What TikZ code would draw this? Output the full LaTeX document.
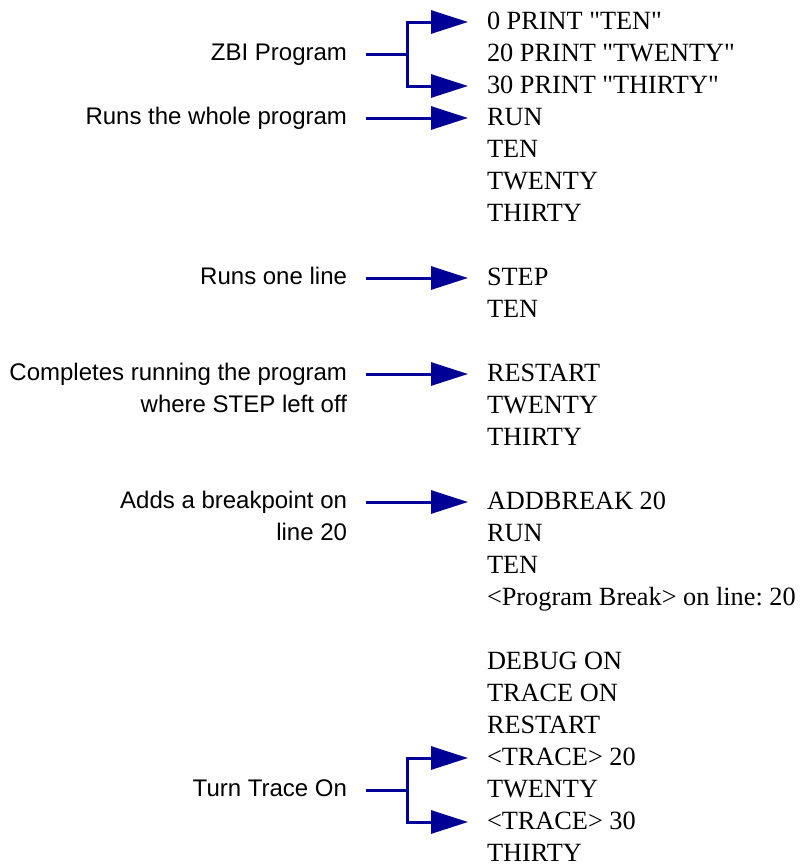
\documentclass[tikz,border=0pt]{standalone}
\usepackage{fontspec}
\setmainfont{Liberation Serif}
\setsansfont{Liberation Sans}
\usepackage{tikz}
\usetikzlibrary{arrows.meta,calc}
\definecolor{zbiblue}{RGB}{0,0,150}
\frenchspacing

\begin{document}
\begin{tikzpicture}[
    x=1pt, y=-1pt,
    conn/.style={zbiblue, line width=3pt},
    arr/.style={conn, -{Triangle[length=37pt, width=23pt]}},
    code/.style={font=\fontsize{26.3}{32}\selectfont, anchor=base west,
      inner sep=0pt, outer xsep=19pt, outer ysep=0pt,
      text height=14pt, text depth=0pt},
    note/.style={font=\sffamily\fontsize{24}{32}\selectfont, align=right,
      anchor=north east, inner sep=0pt, outer xsep=19pt, outer ysep=0pt},
  ]
  \useasboundingbox (0,0) rectangle (805,865);

  % Session transcript (one line every 32pt)
  \node[code] (c0)  at (468,29)  {0 PRINT \textquotedbl TEN\textquotedbl};
  \node[code] (c1)  at (468,61)  {20 PRINT \textquotedbl TWENTY\textquotedbl};
  \node[code] (c2)  at (468,93)  {30 PRINT \textquotedbl THIRTY\textquotedbl};
  \node[code] (c3)  at (468,125) {RUN};
  \node[code] (c4)  at (468,157) {TEN};
  \node[code] (c5)  at (468,189) {TWENTY};
  \node[code] (c6)  at (468,221) {THIRTY};
  \node[code] (c8)  at (468,285) {STEP};
  \node[code] (c9)  at (468,317) {TEN};
  \node[code] (c11) at (468,381) {RESTART};
  \node[code] (c12) at (468,413) {TWENTY};
  \node[code] (c13) at (468,445) {THIRTY};
  \node[code] (c15) at (468,509) {ADDBREAK 20};
  \node[code] (c16) at (468,541) {RUN};
  \node[code] (c17) at (468,573) {TEN};
  \node[code] (c18) at (468,605) {<Program Break> on line: 20};
  \node[code] (c20) at (468,669) {DEBUG ON};
  \node[code] (c21) at (468,701) {TRACE ON};
  \node[code] (c22) at (468,733) {RESTART};
  \node[code] (c23) at (468,765) {<TRACE> 20};
  \node[code] (c24) at (468,797) {TWENTY};
  \node[code] (c25) at (468,829) {<TRACE> 30};
  \node[code] (c26) at (468,861) {THIRTY};

  % Explanations
  \node[note] (lZbi)  at (366,43.6)  {ZBI Program};
  \node[note] (lRun)  at (366,107.6) {Runs the whole program};
  \node[note] (lStep) at (366,267.6) {Runs one line};
  \node[note] (lRest) at (366,363.6) {Completes running the program\\where STEP left off};
  \node[note] (lBrk)  at (366,491.6) {Adds a breakpoint on\\line 20};
  \node[note] (lTrc)  at (366,779.6) {Turn Trace On};

  % Arrows
  \draw[conn] (c1.west -| lZbi.east) -- ++(41,0) coordinate (zbiFork);
  \draw[arr] (zbiFork) |- (c0.west);
  \draw[arr] (zbiFork) |- (c2.west);

  \draw[arr] (c3.west -| lRun.east) -- (c3.west);
  \draw[arr] (c8.west -| lStep.east) -- (c8.west);
  \draw[arr] (c11.west -| lRest.east) -- (c11.west);
  \draw[arr] (c15.west -| lBrk.east) -- (c15.west);

  \draw[conn] (c24.west -| lTrc.east) -- ++(41,0) coordinate (trcFork);
  \draw[arr] (trcFork) |- (c23.west);
  \draw[arr] (trcFork) |- (c25.west);

\end{tikzpicture}
\end{document}
